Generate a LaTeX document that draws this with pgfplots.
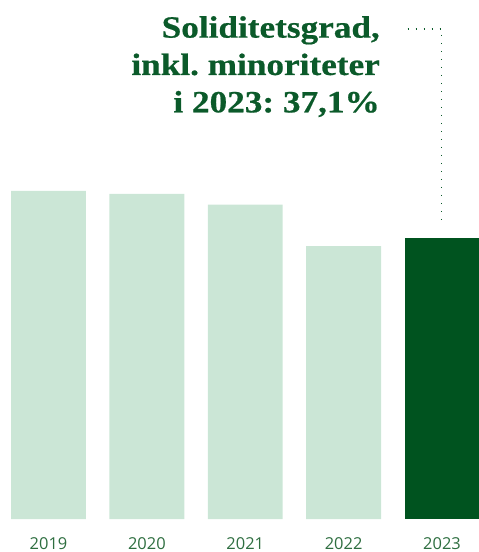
\documentclass[border=0pt]{standalone}
\usepackage{fontspec}
\setmainfont{Liberation Serif}
\newfontfamily\titlefont[FakeStretch=1.14, FakeBold=0.6]{Liberation Serif Bold}
\newfontfamily\ticksans{Open Sans}
\usepackage{pgfplots}
\pgfplotsset{compat=1.18}
\definecolor{barlight}{HTML}{CBE6D6}
\definecolor{bardark}{HTML}{00531F}
\definecolor{titlegreen}{HTML}{0B5A2A}
\definecolor{ticktext}{HTML}{2E6E40}
\begin{document}
\frenchspacing
\begin{tikzpicture}
\begin{axis}[
    scale only axis,
    width=479bp, height=519bp,
    xmin=-0.493, xmax=4.376,
    ymin=0, ymax=68.5,
    axis line style={draw=none},
    ytick=\empty,
    xtick={0,1,2,3,4},
    xticklabels={2019,2020,2021,2022,2023},
    major tick length=0pt,
    xticklabel style={font=\ticksans\fontsize{16.5}{20}\selectfont, text=ticktext, yshift=-15bp},
    ybar, bar width=0.762, bar shift=0pt,
    clip=false,
]
\addplot[fill=barlight, draw=none] coordinates {(0,43.3) (1,42.9) (2,41.5) (3,36.0)};
\addplot[fill=bardark, draw=none] coordinates {(4,37.1)};
\draw[titlegreen, line width=1.5bp, dash pattern=on 1.5bp off 6.5bp]
    (axis cs:3.65,64.7) -- (axis cs:3.995,64.7) -- (axis cs:3.995,39.3);
\end{axis}
\node[anchor=north east, align=right, inner sep=0pt, text=titlegreen,
      font=\titlefont\fontsize{31}{37.5}\selectfont] at (380bp,503bp)
    {Soliditetsgrad,\\inkl. minoriteter\\i 2023: 37,1\%};
\pgfresetboundingbox
\path[use as bounding box] (0,-33bp) rectangle (479bp,519bp);
\end{tikzpicture}
\end{document}
